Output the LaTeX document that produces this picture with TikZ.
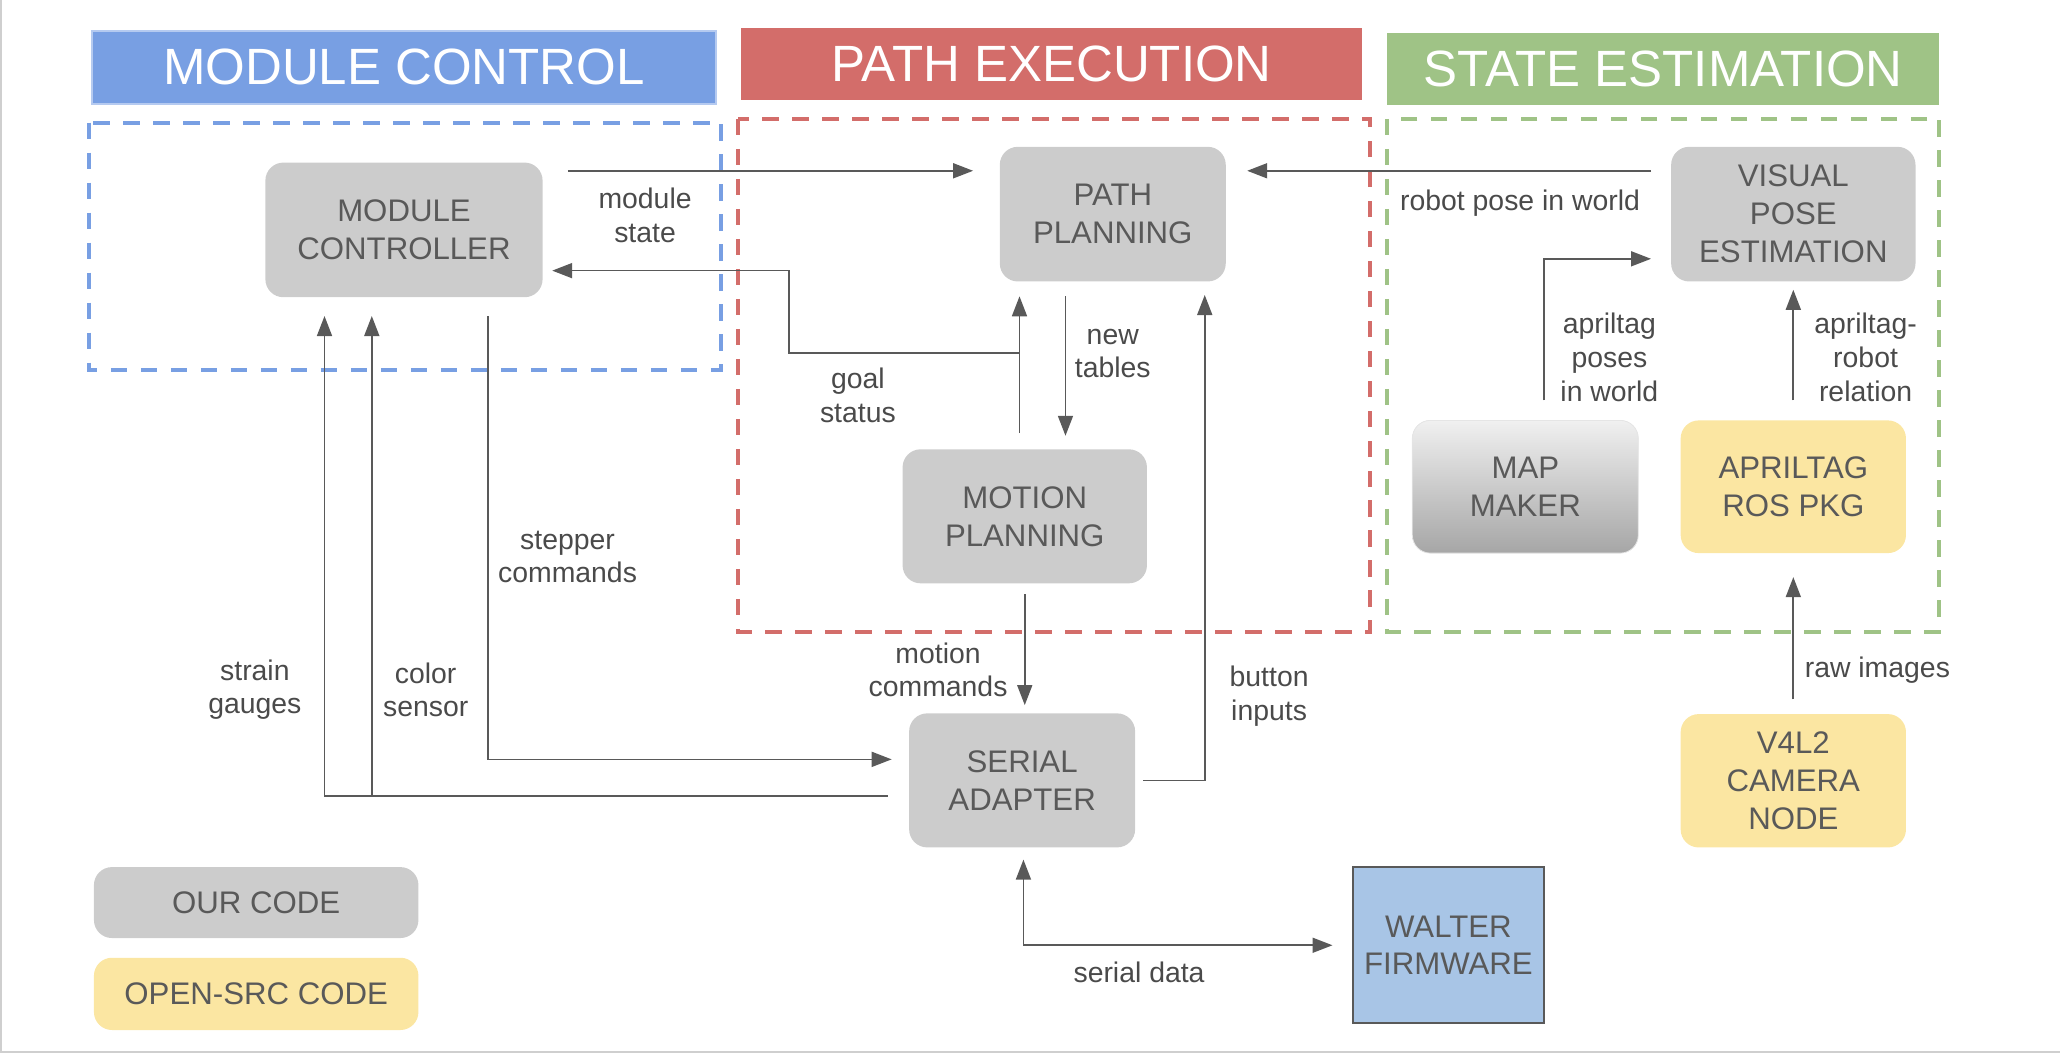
\documentclass[tikz,border=0pt]{standalone}
\usepackage{fontspec}
\setmainfont{Liberation Sans}
\usetikzlibrary{arrows.meta}
\definecolor{boxgray}{HTML}{CCCCCC}
\definecolor{txtgray}{HTML}{595959}
\definecolor{lblgray}{HTML}{4A4A4A}
\definecolor{linegray}{HTML}{595959}
\definecolor{hblue}{HTML}{789FE3}
\definecolor{hred}{HTML}{D36D6A}
\definecolor{hgreen}{HTML}{9FC386}
\definecolor{yel}{HTML}{FBE6A2}
\definecolor{walt}{HTML}{A8C5E6}
\definecolor{maptop}{HTML}{F0F0F0}
\definecolor{mapbot}{HTML}{A6A6A6}
\definecolor{framegray}{HTML}{CFCFCF}
\begin{document}
\begin{tikzpicture}[x=0.657pt, y=-0.657pt,
  sz/.style 2 args={minimum width=#1*0.657pt, minimum height=#2*0.657pt},
  gbox/.style={rectangle, rounded corners=9pt, fill=boxgray, text=txtgray, align=center, inner sep=0pt, font=\fontsize{15.6}{19}\selectfont},
  ybox/.style={gbox, fill=yel},
  hdr/.style={rectangle, inner sep=0pt, text=white, font=\fontsize{25.5}{30}\selectfont},
  lbl/.style={align=center, text=lblgray, inner sep=0pt, font=\fontsize{14.2}{16.8}\selectfont},
  cont/.style={line width=2pt, dash pattern=on 8.3pt off 6.7pt},
  arr/.style={draw=linegray, line width=0.85pt, -{Triangle[length=10pt,width=7.5pt]}},
  arrtwo/.style={draw=linegray, line width=0.85pt, {Triangle[length=10pt,width=7.5pt]}-{Triangle[length=10pt,width=7.5pt]}},
]
\useasboundingbox (0,0) rectangle (1568,802);
\draw[framegray, line width=1pt] (0.8,0) -- (0.8,800.5) -- (1568,800.5);

% headers
\node[hdr, fill=hblue, draw=hblue!55!white, line width=1pt, sz={475}{55.6}] (hmc) at (307.5,51.2) {MODULE CONTROL};
\node[hdr, fill=hred, sz={473}{54.6}] (hpe) at (800.5,48.6) {PATH EXECUTION};
\node[hdr, fill=hgreen, sz={420}{54.3}] (hse) at (1266,52.5) {STATE ESTIMATION};

% containers
\draw[cont, draw=hblue] (67.5,93.4) rectangle (549,282);
\draw[cont, draw=hred] (562,90.5) rectangle (1043,481);
\draw[cont, draw=hgreen] (1056,90.5) rectangle (1476,481);

% nodes
\node[gbox, sz={211}{102.5}] (mc) at (307.5,175) {MODULE\\CONTROLLER};
\node[gbox, sz={172}{102.5}] (pp) at (847,163) {PATH\\PLANNING};
\node[gbox, sz={186}{102.5}] (vpe) at (1365,163) {VISUAL\\POSE\\ESTIMATION};
\node[gbox, sz={186}{102}] (mp) at (780,393) {MOTION\\PLANNING};
\node[gbox, sz={172}{101}, top color=maptop, bottom color=mapbot, draw=black!10] (mm) at (1161,370.5) {MAP\\MAKER};
\node[ybox, sz={171.5}{101}] (atp) at (1365,370.5) {APRILTAG\\ROS PKG};
\node[gbox, sz={172}{102}] (sa) at (778,594) {SERIAL\\ADAPTER};
\node[ybox, sz={171.5}{101.5}] (v4l) at (1365,594.3) {V4L2\\CAMERA\\NODE};
\node[gbox, sharp corners, fill=walt, draw=linegray, line width=1pt, sz={145}{119}] (wf) at (1102.5,719.5) {WALTER\\FIRMWARE};
\node[gbox, sz={247}{54}] (our) at (195,687) {OUR CODE};
\node[ybox, sz={247}{55}] (open) at (195,756.5) {OPEN-SRC CODE};

% connectors
\draw[arr] ([shift={(19,-45)}]mc.east) -- ([shift={(-20,-33)}]pp.west);
\draw[arr] ([shift={(-15,-33)}]vpe.west) -- ([shift={(16,-33)}]pp.east);
\coordinate (gsj) at (776,268.5);
\draw[arr] ([shift={(-4,-12)}]mp.north) -- ([shift={(-71,11)}]pp.south);
\draw[arr] (gsj) -| ([shift={(187.5,31)}]mc.east) -- ([shift={(7,31)}]mc.east);
\draw[arr] ([shift={(-36,11)}]pp.south) -- ([shift={(31,-10)}]mp.north);
\draw[arr] ([shift={(6,0)}]sa.east) -| ([shift={(70,10)}]pp.south);
\draw[arr] ([shift={(0,8)}]mp.south) -- ([shift={(2,-6)}]sa.north);
\draw[arr] ([shift={(64,14)}]mc.south) |- ([shift={(-13,-16)}]sa.west);
\coordinate (csj) at (283,606);
\draw[arr] ([shift={(-16,12)}]sa.west) -| ([shift={(-60.5,14)}]mc.south);
\draw[arr] (csj) -- ([shift={(-24.5,14)}]mc.south);
\draw[arr] ([shift={(14,-15)}]mm.north) |- ([shift={(-15,34)}]vpe.west);
\draw[arr] ([shift={(0,-15)}]atp.north) -- ([shift={(0,6)}]vpe.south);
\draw[arr] ([shift={(0,-11)}]v4l.north) -- ([shift={(0,18)}]atp.south);
\draw[arrtwo] ([shift={(1,9)}]sa.south) |- ([shift={(-15,0)}]wf.west);

% labels
\node[lbl] (lms) at (491,164) {module\\state};
\node[lbl] (lgs) at (653,301) {goal\\status};
\node[lbl] (lnt) at (847,269) {new\\tables};
\node[lbl] (lrp) at (1157,155) {robot pose in world};
\node[lbl] (lap) at (1225,272) {apriltag\\poses\\in world};
\node[lbl] (lar) at (1420,272) {apriltag-\\robot\\relation};
\node[lbl] (lsc) at (432,424) {stepper\\commands};
\node[lbl] (lsg) at (194,525) {strain\\gauges};
\node[lbl] (lcs) at (324,525) {color\\sensor};
\node[lbl] (lmc) at (714,510) {motion\\commands};
\node[lbl] (lbi) at (966,530) {button\\inputs};
\node[lbl] (lri) at (1429,510) {raw images};
\node[lbl] (lsd) at (867,740) {serial data};
\end{tikzpicture}
\end{document}
